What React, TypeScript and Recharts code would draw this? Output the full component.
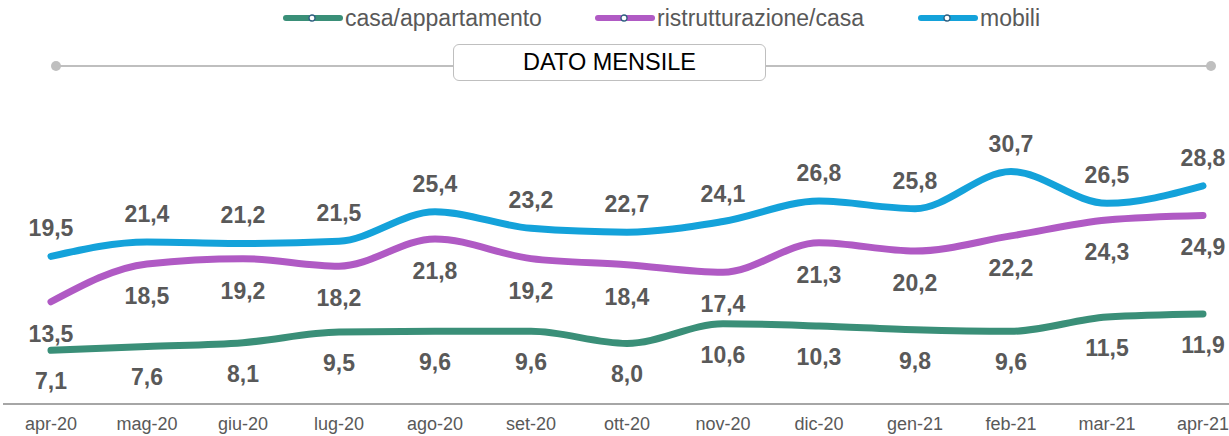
import React from 'react';
import { LineChart, Line, XAxis, YAxis, LabelList } from 'recharts';

const months = ['apr-20', 'mag-20', 'giu-20', 'lug-20', 'ago-20', 'set-20', 'ott-20', 'nov-20', 'dic-20', 'gen-21', 'feb-21', 'mar-21', 'apr-21'];
const casaAppartamento = [7.1, 7.6, 8.1, 9.5, 9.6, 9.6, 8.0, 10.6, 10.3, 9.8, 9.6, 11.5, 11.9];
const ristrutturazione = [13.5, 18.5, 19.2, 18.2, 21.8, 19.2, 18.4, 17.4, 21.3, 20.2, 22.2, 24.3, 24.9];
const mobili = [19.5, 21.4, 21.2, 21.5, 25.4, 23.2, 22.7, 24.1, 26.8, 25.8, 30.7, 26.5, 28.8];

const data = months.map((m, i) => ({
  month: m,
  casa: casaAppartamento[i],
  ristr: ristrutturazione[i],
  mobili: mobili[i],
}));

const FONT = '"Liberation Sans", Arial, sans-serif';
const GREEN = '#3A8F78';
const PURPLE = '#B05AC4';
const BLUE = '#14A2DA';
const TEXT = '#595959';

const legendItems = [
  { name: 'casa/appartamento', color: GREEN, left: 283 },
  { name: 'ristrutturazione/casa', color: PURPLE, left: 595 },
  { name: 'mobili', color: BLUE, left: 918 },
];

const fmt = (v: number) => v.toFixed(1).replace('.', ',');

const makeLabel = (dy: number) => (props: any) => {
  const { x, y, value } = props;
  return (
    <text
      x={x}
      y={y + dy}
      textAnchor="middle"
      dominantBaseline="central"
      fill={TEXT}
      fontSize={23}
      fontWeight="bold"
      fontFamily={FONT}
    >
      {fmt(Number(value))}
    </text>
  );
};

function LegendIcon({ color }: { color: string }) {
  return (
    <svg width={60} height={10} style={{ display: 'block' }}>
      <line x1={3} y1={5} x2={57} y2={5} stroke={color} strokeWidth={6} strokeLinecap="round" />
      <circle cx={29} cy={5} r={3} fill="#fff" stroke="#2F5F80" strokeWidth={1.3} />
    </svg>
  );
}

export default function App() {
  return (
    <div style={{ position: 'absolute', left: 0, top: 0, width: 1229, height: 436, overflow: 'hidden', background: '#fff', fontFamily: FONT }}>
      {legendItems.map((it) => (
        <div
          key={it.name}
          style={{ position: 'absolute', left: it.left, top: 4, height: 28, display: 'flex', alignItems: 'center' }}
        >
          <LegendIcon color={it.color} />
          <span style={{ marginLeft: 2, fontSize: 23, color: TEXT, lineHeight: '28px' }}>{it.name}</span>
        </div>
      ))}

      <svg width={1229} height={100} style={{ position: 'absolute', left: 0, top: 0 }}>
        <line x1={56} y1={66} x2={1211} y2={66} stroke="#BFBFBF" strokeWidth={2} />
        <circle cx={56} cy={66} r={5} fill="#BFBFBF" />
        <circle cx={1211} cy={66} r={5} fill="#BFBFBF" />
      </svg>
      <div
        style={{
          position: 'absolute',
          left: 453,
          top: 44,
          width: 311,
          height: 35,
          border: '1.5px solid #BFBFBF',
          borderRadius: 6,
          background: '#fff',
          display: 'flex',
          alignItems: 'center',
          justifyContent: 'center',
          fontSize: 23.5,
          color: '#000',
        }}
      >
        DATO MENSILE
      </div>

      <LineChart
        width={1251}
        height={436}
        data={data}
        margin={{ top: 139, right: 0, bottom: 2, left: 3 }}
        style={{ position: 'absolute', left: 0, top: 0, fontFamily: FONT }}
      >
        <XAxis
          dataKey="month"
          padding={{ left: 48, right: 48 }}
          height={30}
          axisLine={{ stroke: '#A6A6A6', strokeWidth: 2 }}
          tickLine={false}
          tickSize={6}
          tickMargin={7}
          tick={{ fill: TEXT, fontSize: 18, fontFamily: FONT }}
          interval={0}
        />
        <YAxis hide domain={[0, 35]} />
        <Line type="monotone" dataKey="casa" stroke={GREEN} strokeWidth={7} strokeLinecap="round" dot={false} activeDot={false} isAnimationActive={false}>
          <LabelList dataKey="casa" content={makeLabel(31)} />
        </Line>
        <Line type="monotone" dataKey="ristr" stroke={PURPLE} strokeWidth={7} strokeLinecap="round" dot={false} activeDot={false} isAnimationActive={false}>
          <LabelList dataKey="ristr" content={makeLabel(32)} />
        </Line>
        <Line type="monotone" dataKey="mobili" stroke={BLUE} strokeWidth={7} strokeLinecap="round" dot={false} activeDot={false} isAnimationActive={false}>
          <LabelList dataKey="mobili" content={makeLabel(-28)} />
        </Line>
      </LineChart>
    </div>
  );
}
